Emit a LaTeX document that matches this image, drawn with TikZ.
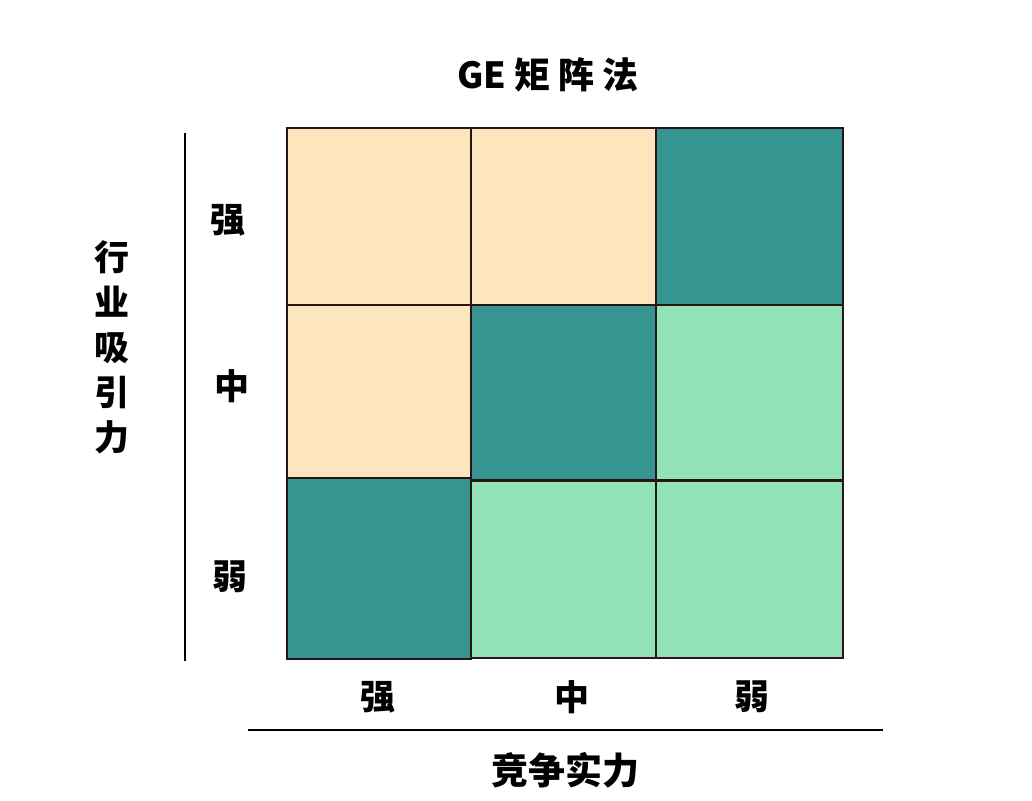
\documentclass[tikz,border=0pt]{standalone}
\usepackage{fontspec}
\setmainfont{Noto Sans CJK SC}
\usetikzlibrary{positioning}
\definecolor{mybeige}{RGB}{253,229,190}
\definecolor{myteal}{RGB}{54,148,145}
\definecolor{mygreen}{RGB}{146,228,184}
\definecolor{myedge}{RGB}{40,20,20}

\begin{document}
\begin{tikzpicture}[x=1pt,y=-1pt,every node/.style={inner sep=0pt},
  cell/.style={draw=myedge,line width=1.5pt,minimum width=184pt,minimum height=177pt},
  lab/.style={font=\fontsize{35}{40}\selectfont\bfseries}]
\useasboundingbox (0,0) rectangle (1032,800);
\node[lab,font=\fontsize{36}{40}\selectfont\bfseries] (title) at (548,75) {GE 矩 阵 法};
% grid
\node[cell,fill=mybeige] (c11) at (379,216.5) {};
\node[cell,fill=mybeige] (c12) at (563.5,216.5) {};
\node[cell,fill=myteal,minimum width=187pt] (c13) at (749.5,216.5) {};
\node[cell,fill=mybeige,minimum height=175pt] (c21) at (379,392.5) {};
\node[cell,fill=myteal,minimum height=175pt] (c22) at (563.5,392.5) {};
\node[cell,fill=mygreen,minimum width=187pt,minimum height=175pt] (c23) at (749.5,392.5) {};
\node[cell,fill=myteal,minimum height=181pt] (c31) at (379,568.5) {};
\node[cell,fill=mygreen] (c32) at (563.5,569.5) {};
\node[cell,fill=mygreen,minimum width=187pt] (c33) at (749.5,569.5) {};
% row labels
\node[lab] (r1) at (228,220) {强};
\node[lab] (r2) at (232,386) {中};
\node[lab] (r3) at (230,577) {弱};
% column labels
\node[lab] (k1) at (378,697) {强};
\node[lab] (k2) at (572,697) {中};
\node[lab] (k3) at (752,697) {弱};
% axes
\coordinate (v1) at (185,133);
\coordinate (v2) at (185,661);
\draw[line width=2pt] (v1) -- (v2);
\coordinate (h1) at (248,730);
\coordinate (h2) at (883,730);
\draw[line width=2pt] (h1) -- (h2);
\node[lab,align=center,font=\fontsize{35}{45}\selectfont\bfseries] (yax) at (112,347) {行\\业\\吸\\引\\力};
\node[lab,font=\fontsize{37}{40}\selectfont\bfseries] (xax) at (565,770) {竞争实力};
\end{tikzpicture}
\end{document}
